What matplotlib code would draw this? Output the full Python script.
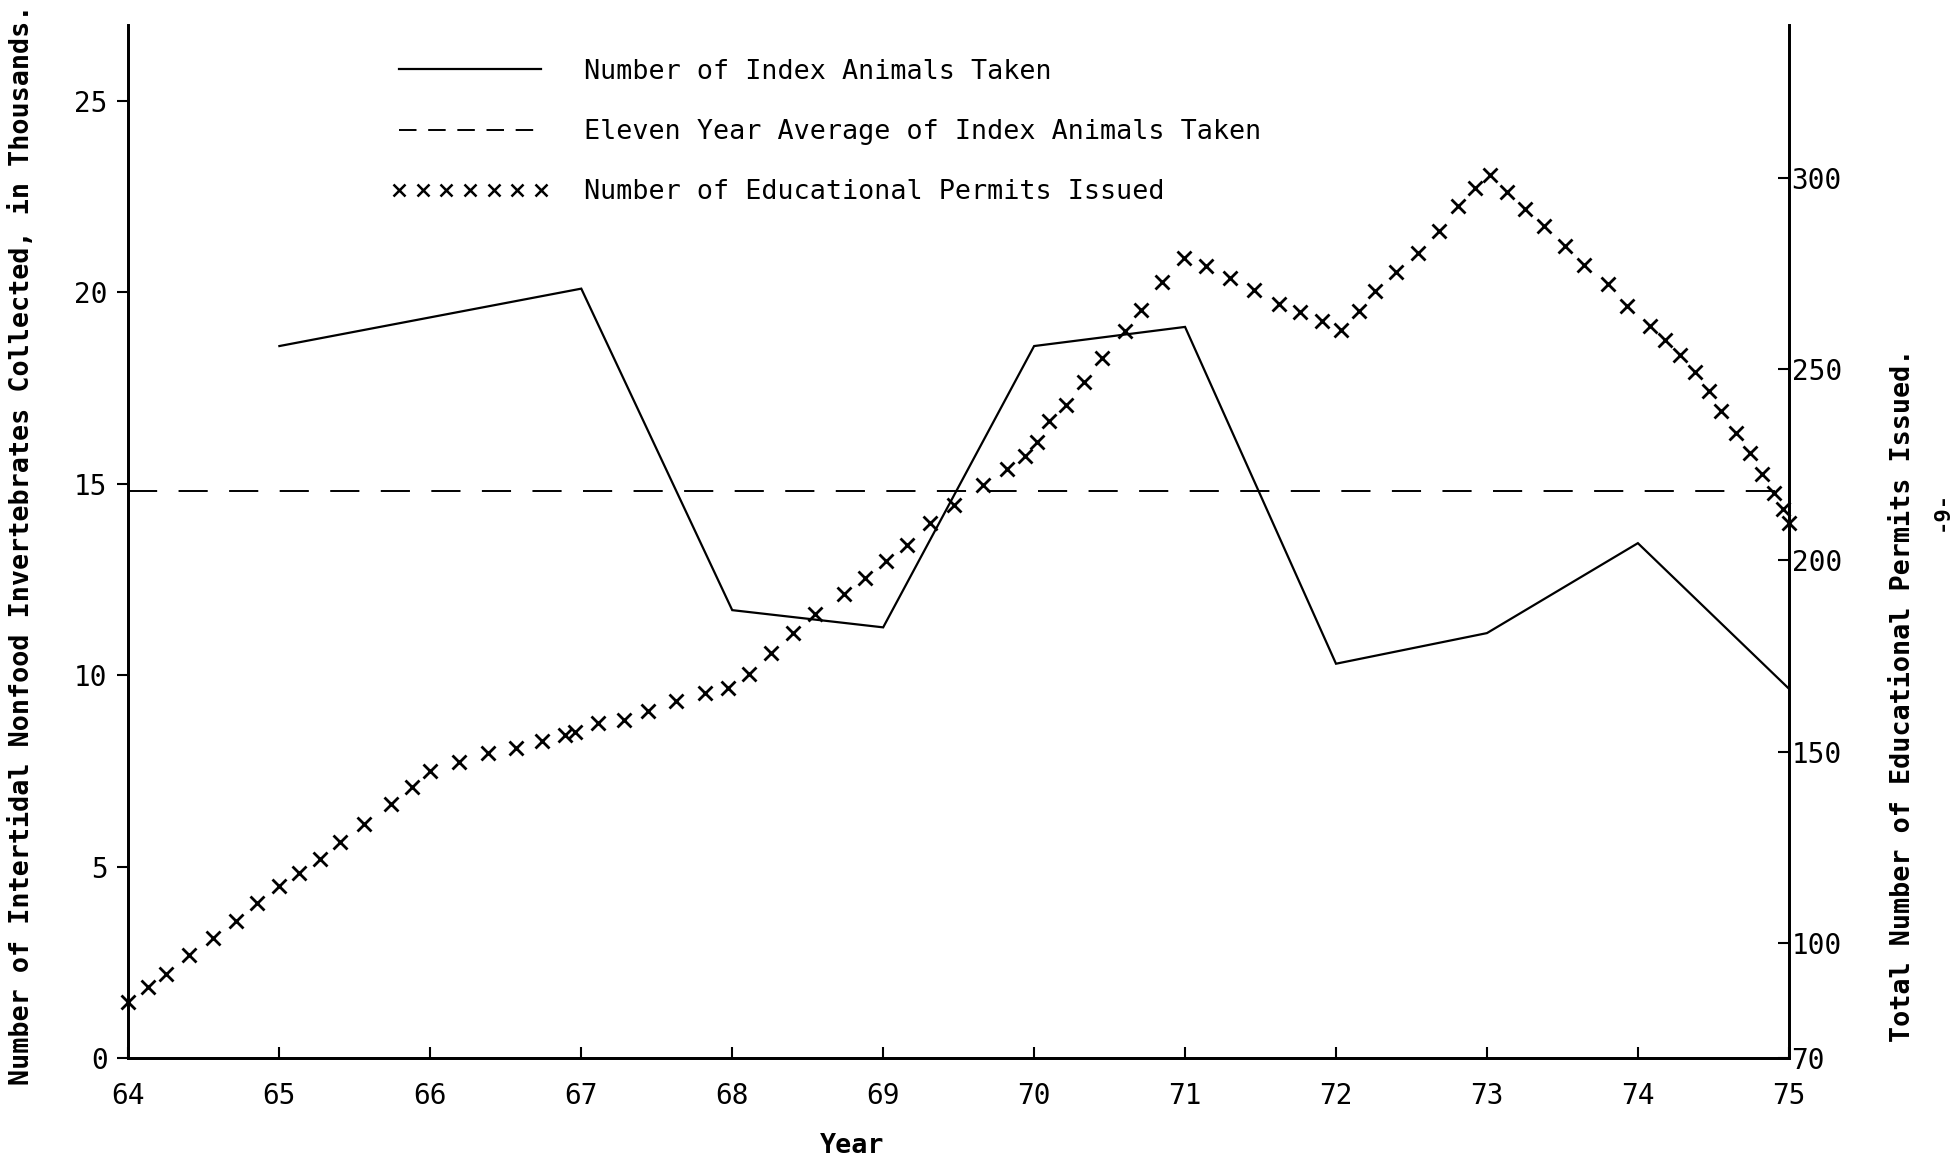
import matplotlib
matplotlib.use("Agg")
import matplotlib.pyplot as plt
from matplotlib.lines import Line2D

# ---- data ----
years = [65, 66, 67, 68, 69, 70, 71, 72, 73, 74, 75]
index_animals = [18.6, 19.35, 20.1, 11.7, 11.25, 18.6, 19.1, 10.3, 11.1, 13.45, 9.65]
eleven_year_avg = 14.8

permit_x = [64.00, 64.13, 64.25, 64.40, 64.56, 64.71, 64.85, 65.00, 65.13, 65.27,
            65.40, 65.56, 65.74, 65.88, 66.00, 66.19, 66.38, 66.57, 66.74, 66.89,
            66.96, 67.11, 67.28, 67.44, 67.63, 67.82, 67.97, 68.11, 68.26, 68.40,
            68.55, 68.74, 68.88, 69.02, 69.16, 69.31, 69.47, 69.66, 69.82, 69.94,
            70.02, 70.10, 70.21, 70.33, 70.45, 70.60, 70.71, 70.85, 70.99, 71.14,
            71.30, 71.46, 71.62, 71.76, 71.91, 72.03, 72.15, 72.26, 72.40, 72.54,
            72.68, 72.81, 72.92, 73.02, 73.13, 73.25, 73.38, 73.52, 73.64, 73.80,
            73.93, 74.08, 74.18, 74.28, 74.38, 74.47, 74.55, 74.65, 74.74, 74.82,
            74.90, 74.96, 75.00]
permit_y = [84.7, 88.6, 91.9, 96.8, 101.3, 105.9, 110.5, 115.0, 118.3, 121.9,
            126.5, 131.0, 136.3, 140.8, 145.1, 147.4, 149.6, 150.9, 152.9, 154.5,
            155.2, 157.5, 158.4, 160.7, 163.3, 165.3, 166.6, 170.2, 175.7, 181.0,
            185.9, 191.1, 195.3, 199.9, 204.1, 209.7, 214.6, 219.8, 224.0, 227.3,
            230.9, 236.4, 240.7, 246.6, 252.8, 259.9, 265.5, 272.7, 278.9, 276.9,
            273.7, 270.7, 267.1, 264.8, 262.6, 260.3, 265.2, 270.4, 275.3, 280.2,
            286.1, 292.6, 297.2, 300.7, 296.2, 291.9, 287.4, 282.1, 277.2, 272.3,
            266.5, 261.3, 257.7, 253.7, 249.2, 244.3, 239.1, 233.2, 228.0, 222.7,
            217.5, 213.3, 209.7]

xticks = [64, 65, 66, 67, 68, 69, 70, 71, 72, 73, 74, 75]
xtick_labels = ["64", "65", "66", "67", "68", "69", "70", "71", "72", "73", "74", "75"]
left_ticks = [0, 5, 10, 15, 20, 25]
right_ticks = [70, 100, 150, 200, 250, 300]

legend_labels = ["Number of Index Animals Taken",
                 "Eleven Year Average of Index Animals Taken",
                 "Number of Educational Permits Issued"]

FONT = "DejaVu Sans Mono"
FS = 19.3
TFS = 20

fig = plt.figure(figsize=(19.55, 11.69), dpi=100)
ax = fig.add_axes([0.0657, 0.095, 0.8493, 0.884])
ax2 = ax.twinx()

ax.plot(years, index_animals, color="black", lw=1.6, solid_joinstyle="miter")
ax.axhline(eleven_year_avg, color="black", lw=1.4, dashes=(15, 11))
ax2.plot(permit_x, permit_y, linestyle="none", marker="x", color="black",
         markersize=10, markeredgewidth=2.0, clip_on=False)

ax.set_xlim(64, 75)
ax.set_ylim(0, 27)
ax2.set_ylim(70, 340)

ax.set_xticks(xticks)
ax.set_xticklabels(xtick_labels, fontfamily=FONT, fontsize=TFS)
ax.set_yticks(left_ticks)
ax.set_yticklabels([str(t) for t in left_ticks], fontfamily=FONT, fontsize=TFS)
ax2.set_yticks(right_ticks)
ax2.set_yticklabels([str(t) for t in right_ticks], fontfamily=FONT, fontsize=TFS)

ax.tick_params(axis="x", direction="in", length=8, width=1.5, pad=17)
ax.tick_params(axis="y", direction="out", length=8, width=1.5, pad=7)
ax2.tick_params(axis="y", direction="in", length=8, width=1.5, pad=2)

for a in (ax, ax2):
    a.spines["top"].set_visible(False)
    a.spines["left"].set_linewidth(2.0)
    a.spines["right"].set_linewidth(2.0)
    a.spines["bottom"].set_linewidth(2.0)
    a.patch.set_alpha(0)

handles = [Line2D([], [], color="black", lw=1.6),
           Line2D([], [], color="black", lw=1.4, dashes=(9, 6)),
           Line2D([], [], color="black", linestyle="none", marker="x",
                  markersize=8, markeredgewidth=1.8)]
leg = ax2.legend(handles, legend_labels, loc="upper left",
                 bbox_to_anchor=(0.158, 0.967), frameon=False, numpoints=7,
                 handlelength=5.9, handletextpad=1.3, labelspacing=1.28,
                 borderpad=0, borderaxespad=0,
                 prop={"family": FONT, "size": FS})

fig.text(0.0115, 0.534, "Number of Intertidal Nonfood Invertebrates Collected, in Thousands.",
         rotation=90, ha="center", va="center", fontfamily=FONT, fontsize=FS,
         fontweight="bold")
fig.text(0.9735, 0.405, "Total Number of Educational Permits Issued.",
         rotation=90, ha="center", va="center", fontfamily=FONT, fontsize=FS,
         fontweight="bold")
fig.text(0.436, 0.02, "Year", ha="center", va="center", fontfamily=FONT,
         fontsize=FS, fontweight="bold")
fig.text(0.993, 0.563, "-9-", rotation=90, ha="center", va="center",
         fontfamily=FONT, fontsize=16, fontweight="bold")

fig.savefig("out.png", dpi=100)
